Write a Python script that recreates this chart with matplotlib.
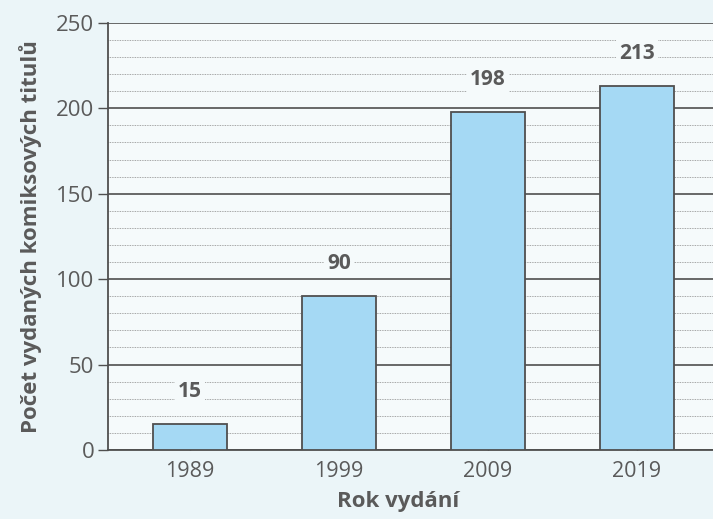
import matplotlib.pyplot as plt
from matplotlib.ticker import MultipleLocator

# comic titles published per year
roky = ["1989", "1999", "2009", "2019"]
pocty = [15, 90, 198, 213]

paper = "#ebf5f8"
plot_bg = "#f5fafb"
ink = "#4f4f4f"
text_c = "#5a5a5a"

plt.rcParams['font.family'] = ['Open Sans', 'DejaVu Sans']

fig = plt.figure(figsize=(7.13, 5.19), dpi=100, facecolor=paper)
ax = fig.add_axes([0.1515, 0.133, 0.8485, 0.823], facecolor=plot_bg)

x = range(len(roky))
ax.bar(x, pocty, width=0.5, color="#a5d9f4", edgecolor=ink, linewidth=1.3, zorder=3)

ax.set_xlim(-0.55, 3.51)
ax.set_ylim(0, 250)
ax.yaxis.set_major_locator(MultipleLocator(50))
ax.yaxis.set_minor_locator(MultipleLocator(10))
ax.grid(axis="y", which="major", color=ink, linewidth=1.2, zorder=1)
ax.grid(axis="y", which="minor", color="#8a8a8a", linewidth=0.6,
        linestyle=(0, (1, 1)), zorder=1)

ax.set_xticks(list(x))
ax.set_xticklabels(roky)
ax.tick_params(axis="x", direction="in", length=9, width=1, color=ink,
               labelsize=15.5, labelcolor=text_c, pad=8)
ax.tick_params(axis="y", which="major", direction="out", length=7, width=1,
               color=ink, labelsize=16, labelcolor=text_c, pad=3)
ax.tick_params(axis="y", which="minor", length=0)

for side in ["top", "right"]:
    ax.spines[side].set_visible(False)
for side in ["left", "bottom"]:
    ax.spines[side].set_color(ink)
    ax.spines[side].set_linewidth(1.3)

# value labels sit on the gridlines with a small patch of background
for xi, v in zip(x, pocty):
    ax.text(xi, v + 19, str(v), ha="center", va="center", fontsize=15,
            fontweight="bold", color=text_c,
            bbox=dict(boxstyle="square,pad=0.15", facecolor=plot_bg,
                      edgecolor="none"), zorder=4)

ax.set_xlabel("Rok vydání", fontsize=16, fontweight="bold", color=text_c)
ax.set_ylabel("Počet vydaných komiksových titulů", fontsize=16,
              fontweight="bold", color=text_c, labelpad=10)
ax.xaxis.set_label_coords(0.48, -0.095)

fig.savefig("out.png", dpi=100, facecolor=paper)
